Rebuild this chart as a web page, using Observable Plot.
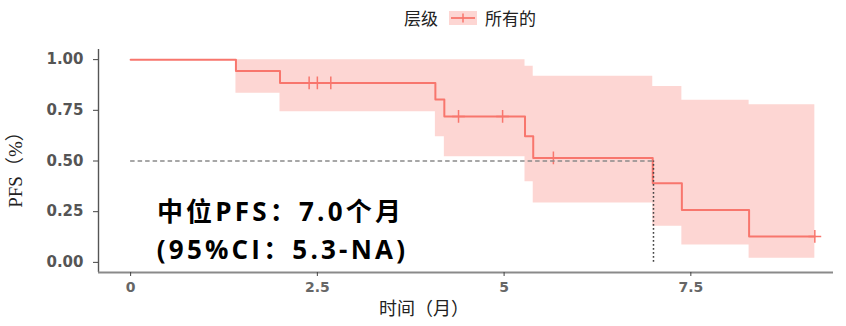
<!DOCTYPE html>
<html>
<head>
<meta charset="utf-8">
<script src="https://cdn.jsdelivr.net/npm/d3@7"></script>
<script src="https://cdn.jsdelivr.net/npm/@observablehq/plot@0.6"></script>
<style>
  html, body { margin: 0; padding: 0; background: #fff; }
  #wrap { position: relative; width: 846px; height: 326px; overflow: hidden; }
  #legend { position: absolute; top: 5px; left: 404px; display: flex; align-items: center;
            font-family: "Noto Sans CJK SC", sans-serif; font-size: 17px; color: #222; }
  #legend svg { margin: 0 8px 0 11px; }
</style>
</head>
<body>
<div id="wrap"></div>
<script>
// ---- data ----
const stepTimes = [0, 1.41, 2.0, 4.08, 4.20, 5.28, 5.39, 6.99, 7.38, 8.28, 9.16];
const survival  = [1.0, 0.944, 0.885, 0.803, 0.720, 0.622, 0.515, 0.390, 0.258, 0.128, 0.128];
const ciLower   = [1.0, 0.834, 0.743, 0.620, 0.521, 0.398, 0.293, 0.178, 0.086, 0.020, 0.020];
const ciUpper   = [1.0, 1.0, 1.0, 1.0, 1.0, 0.967, 0.918, 0.867, 0.800, 0.777, 0.777];
const censorTimes = [2.39, 2.50, 2.68, 4.39, 4.98, 5.66, 9.16];
const medianTime = 7.0;
const medianSurv = 0.5;
const xTicks = [0, 2.5, 5, 7.5];
const yTicks = [0, 0.25, 0.5, 0.75, 1.0];
const legendTitle = "层级";
const legendLabel = "所有的";
const annotationLines = ["中位PFS：7.0个月", "(95%CI：5.3-NA)"];
const xLabel = "时间（月）";
const yLabel = "PFS（%）";

const red = "#F8766D";
const xDomain = [-0.43, 9.41];
const yDomain = [-0.05, 1.05];

const km = stepTimes.map((t, i) => ({t, s: survival[i], lo: ciLower[i], hi: ciUpper[i]}));
const bis = d3.bisector(d => d.t).right;
const censors = censorTimes.map(t => ({t, s: km[Math.max(0, bis(km, t) - 1)].s}));

const tickFont = "DejaVu Sans, sans-serif";
const annotFont = "Open Sans, Noto Sans CJK SC, sans-serif";

const chart = Plot.plot({
  width: 846,
  height: 326,
  marginLeft: 98,
  marginRight: 13,
  marginTop: 49,
  marginBottom: 54,
  x: {domain: xDomain},
  y: {domain: yDomain},
  style: {background: "transparent"},
  marks: [
    Plot.areaY(km, {x: "t", y1: "lo", y2: "hi", curve: "step-after", fill: red, fillOpacity: 0.3}),
    Plot.line(km, {x: "t", y: "s", curve: "step-after", stroke: red, strokeWidth: 2}),
    Plot.dot(censors, {x: "t", y: "s", symbol: "plus", r: 4.2, stroke: red, strokeWidth: 1.5}),
    Plot.ruleY([medianSurv], {x1: 0, x2: medianTime, stroke: "#8a8a8a", strokeWidth: 1.5, strokeDasharray: "4.5,3"}),
    Plot.ruleX([medianTime], {y1: 0, y2: medianSurv, stroke: "#444", strokeWidth: 1.5, strokeDasharray: "1.8,2.2"}),
    Plot.ruleX([xDomain[0]], {stroke: "#555", strokeWidth: 1.4}),
    Plot.ruleY([yDomain[0]], {stroke: "#8a8a8a", strokeWidth: 2}),
    Plot.axisY({ticks: yTicks, tickFormat: d3.format(".2f"), tickSize: 5, tickPadding: 10,
                label: null, stroke: "#444", fill: "#555", fontSize: 15, fontWeight: "bold",
                fontFamily: tickFont}),
    Plot.axisX({ticks: xTicks, tickFormat: d => String(d), tickSize: 4, tickPadding: 6,
                label: null, stroke: "#444", fill: "#666", fontSize: 14, fontWeight: "bold",
                fontFamily: tickFont}),
    Plot.text([xLabel], {frameAnchor: "bottom", lineAnchor: "middle", dx: -42, dy: 37, fontSize: 18,
                fontFamily: "Noto Sans CJK SC, sans-serif", fill: "#222"}),
    Plot.text([yLabel], {frameAnchor: "left", textAnchor: "middle", lineAnchor: "middle", rotate: -90,
                dx: -83, dy: 4, fontSize: 19,
                fontFamily: "Liberation Serif, Noto Sans CJK SC, serif", fill: "#222"}),
    Plot.text([annotationLines[0]], {frameAnchor: "bottom-left", textAnchor: "middle", lineAnchor: "middle",
                dx: 182, dy: -60, fontSize: 26, fontWeight: "bold", fontFamily: annotFont, fill: "#000"}),
    Plot.text([annotationLines[1]], {frameAnchor: "bottom-left", textAnchor: "middle", lineAnchor: "middle",
                dx: 184, dy: -22, fontSize: 26, fontWeight: "bold", fontFamily: annotFont, fill: "#000"})
  ]
});

d3.select(chart).selectAll("text")
  .filter(function() { return annotationLines.includes(this.textContent); })
  .attr("letter-spacing", "3.2px")
  .style("letter-spacing", "3.2px");

const wrap = document.getElementById("wrap");
wrap.appendChild(chart);

const legend = document.createElement("div");
legend.id = "legend";
legend.innerHTML = `<span>${legendTitle}</span>
<svg width="28" height="16" viewBox="0 0 28 16">
  <rect x="0" y="1" width="28" height="14" fill="${red}" fill-opacity="0.3"></rect>
  <line x1="2" x2="26" y1="8" y2="8" stroke="${red}" stroke-width="1.8"></line>
  <line x1="14" x2="14" y1="3.5" y2="12.5" stroke="${red}" stroke-width="1.5"></line>
</svg>
<span>${legendLabel}</span>`;
wrap.appendChild(legend);
</script>
</body>
</html>
